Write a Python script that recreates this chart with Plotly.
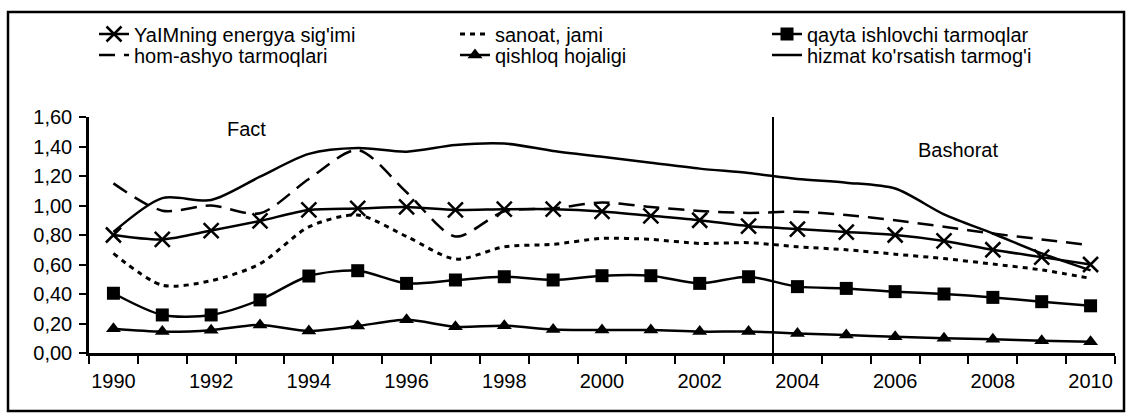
import plotly.graph_objects as go

years = list(range(1990, 2011))
yaim = [0.80, 0.77, 0.83, 0.895, 0.97, 0.98, 0.99, 0.97, 0.975, 0.975, 0.96,
        0.93, 0.90, 0.86, 0.84, 0.82, 0.80, 0.76, 0.70, 0.65, 0.60]
sanoat = [0.675, 0.46, 0.49, 0.605, 0.855, 0.935, 0.79, 0.637, 0.72, 0.737, 0.777,
          0.77, 0.743, 0.748, 0.72, 0.70, 0.67, 0.64, 0.603, 0.563, 0.506]
qayta = [0.405, 0.258, 0.258, 0.36, 0.522, 0.558, 0.472, 0.495, 0.517, 0.495, 0.524,
         0.524, 0.472, 0.517, 0.45, 0.438, 0.416, 0.40, 0.377, 0.348, 0.32]
homashyo = [1.15, 0.965, 1.0, 0.947, 1.18, 1.376, 1.09, 0.79, 0.96, 0.98, 1.02,
            0.99, 0.963, 0.95, 0.958, 0.936, 0.90, 0.856, 0.81, 0.77, 0.73]
qishloq = [0.165, 0.145, 0.155, 0.19, 0.15, 0.183, 0.225, 0.178, 0.185, 0.16, 0.156,
           0.156, 0.145, 0.145, 0.133, 0.122, 0.11, 0.10, 0.093, 0.083, 0.077]
hizmat = [0.82, 1.05, 1.037, 1.195, 1.35, 1.39, 1.365, 1.41, 1.42, 1.37, 1.33,
          1.29, 1.25, 1.22, 1.18, 1.155, 1.115, 0.94, 0.81, 0.675, 0.56]

names = ["YaIMning energya sig'imi", "sanoat, jami", "qayta ishlovchi tarmoqlar",
         "hom-ashyo tarmoqlari", "qishloq hojaligi", "hizmat ko'rsatish tarmog'i"]
tick_years = list(range(1990, 2011, 2))
split_year = 2003.5
period_labels = ["Fact", "Bashorat"]

FONT = "Liberation Sans, Arial, sans-serif"
W, H = 1127, 413
L, R, T, B = 89, 12, 117, 60
PW, PH = W - L - R, H - T - B


def px_x(px):
    return (px - L) / PW


def px_y(py):
    return (H - B - py) / PH


fig = go.Figure()

series = [
    (yaim, dict(color="black", width=2.5), dict(symbol="x-thin-open", size=15, line=dict(color="black", width=2.5)), "lines+markers"),
    (sanoat, dict(color="black", width=3, dash="5px,5px"), None, "lines"),
    (qayta, dict(color="black", width=2.5), dict(symbol="square", size=13, color="black"), "lines+markers"),
    (homashyo, dict(color="black", width=2.5, dash="16px,9px"), None, "lines"),
    (qishloq, dict(color="black", width=2.5), dict(symbol="triangle-up", size=13, color="black"), "lines+markers"),
    (hizmat, dict(color="black", width=2.5), None, "lines"),
]
legend_ids = ["legend", "legend2", "legend3", "legend4", "legend5", "legend6"]

for (vals, line, marker, mode), name, lg in zip(series, names, legend_ids):
    kw = dict(x=years, y=vals, name=name, mode=mode, line=dict(shape="spline", smoothing=0.8, **line),
              legend=lg, showlegend=True)
    if marker:
        kw["marker"] = marker
    fig.add_trace(go.Scatter(**kw))

# legend positions (text start px, row center px) in container coordinates
text_x = [142, 503, 815, 142, 503, 815]
row_y = [34, 34, 34, 55, 55, 55]
legend_layout = {}
for lg, tx, ry in zip(legend_ids, text_x, row_y):
    legend_layout[lg] = dict(
        xref="container", yref="container",
        x=(tx - 48) / W, y=1 - ry / H, xanchor="left", yanchor="middle",
        font=dict(family=FONT, size=20, color="black"),
        bgcolor="rgba(0,0,0,0)", borderwidth=0, orientation="v",
    )

fig.update_layout(
    width=W, height=H,
    margin=dict(l=L, r=R, t=T, b=B, pad=0, autoexpand=False),
    paper_bgcolor="white", plot_bgcolor="white",
    separators=", ",
    font=dict(family=FONT, size=20, color="black"),
    **legend_layout,
)

fig.update_xaxes(
    range=[1989.5, 2010.5], tickvals=tick_years, ticktext=[str(y) for y in tick_years],
    ticks="", showgrid=False, zeroline=False,
    showline=True, linecolor="black", linewidth=2.5,
    minor=dict(tick0=1989.5, dtick=1, ticks="outside", ticklen=8, tickwidth=2, tickcolor="black", showgrid=False),
    tickfont=dict(family=FONT, size=20, color="black"),
    ticklabelstandoff=8,
)
fig.update_yaxes(
    range=[0, 1.6], dtick=0.2, tickformat=".2f",
    ticks="outside", ticklen=7, tickwidth=2, tickcolor="black",
    showgrid=False, zeroline=False,
    showline=True, linecolor="black", linewidth=2.5,
    tickfont=dict(family=FONT, size=20, color="black"),
    ticklabelstandoff=3,
)

# forecast divider
fig.add_shape(type="line", xref="x", yref="y", x0=split_year, x1=split_year, y0=0, y1=1.634,
              line=dict(color="black", width=2))
fig.add_annotation(x=1992.73, y=1.52, xref="x", yref="y", text=period_labels[0], showarrow=False,
                   font=dict(family=FONT, size=20, color="black"))
fig.add_annotation(x=2007.29, y=1.375, xref="x", yref="y", text=period_labels[1], showarrow=False,
                   font=dict(family=FONT, size=20, color="black"))

# outer chart border
fig.add_shape(type="rect", xref="paper", yref="paper",
              x0=px_x(8), x1=px_x(1124), y0=px_y(411), y1=px_y(12),
              line=dict(color="black", width=2.5), fillcolor="rgba(0,0,0,0)", layer="below")

fig.write_html("out.html", config={"displayModeBar": False},
               post_script="document.body.style.margin='0';document.body.style.padding='0';")
